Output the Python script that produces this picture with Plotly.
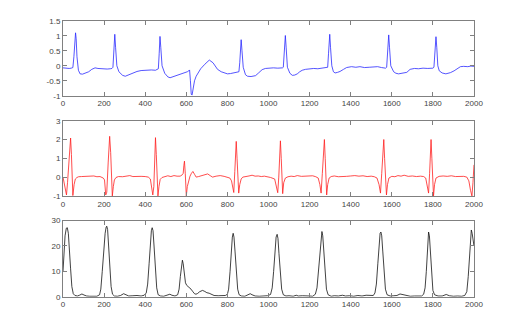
import plotly.graph_objects as go

# ---------------- data ----------------
ecg_x = [0, 10, 20, 30, 40, 48, 53, 58, 61, 64, 68, 75, 83, 95, 110, 125, 140, 156, 170, 185,
         200, 215, 230, 238, 243, 248, 252, 256, 262, 272, 290, 303, 320, 340, 360, 380, 394,
         410, 430, 450, 460, 464, 468, 472, 476, 482, 495, 510, 521, 540, 560, 580, 595, 605,
         612, 616, 620, 624, 628, 633, 640, 648, 656, 670, 690, 712, 730, 752, 770, 784, 800,
         815, 830, 848, 856, 860, 864, 867, 871, 877, 888, 898, 915, 937, 950, 969, 985, 1000,
         1024, 1045, 1060, 1068, 1072, 1078, 1082, 1086, 1092, 1104, 1116, 1128, 1140, 1152,
         1164, 1180, 1196, 1220, 1240, 1260, 1283, 1288, 1292, 1298, 1302, 1308, 1316, 1324,
         1336, 1348, 1365, 1380, 1404, 1425, 1445, 1467, 1490, 1510, 1531, 1550, 1570, 1575,
         1580, 1585, 1589, 1595, 1609, 1620, 1633, 1650, 1673, 1689, 1710, 1730, 1752, 1775,
         1800, 1805, 1810, 1815, 1819, 1824, 1831, 1845, 1863, 1885, 1903, 1920, 1934, 1950,
         1970, 1985, 2000]
ecg_y = [-0.07, -0.08, -0.07, -0.09, -0.08, -0.06, 0.3, 0.95, 1.1, 0.9, 0.3, -0.15, -0.27,
         -0.28, -0.25, -0.2, -0.12, -0.07, -0.09, -0.1, -0.1, -0.11, -0.1, -0.09, -0.05, 0.5,
         1.05, 0.6, 0.0, -0.2, -0.32, -0.35, -0.3, -0.24, -0.19, -0.16, -0.15, -0.16, -0.14,
         -0.15, -0.13, -0.1, 0.4, 0.98, 0.6, 0.0, -0.25, -0.37, -0.4, -0.36, -0.3, -0.25, -0.22,
         -0.2, -0.17, -0.14, -0.5, -0.95, -0.98, -0.8, -0.5, -0.35, -0.25, -0.1, 0.05, 0.19,
         0.1, -0.12, -0.2, -0.23, -0.27, -0.26, -0.24, -0.22, -0.2, 0.1, 0.6, 0.87, 0.5, -0.05,
         -0.3, -0.35, -0.36, -0.33, -0.25, -0.13, -0.09, -0.08, -0.07, -0.08, -0.08, -0.07,
         -0.05, 0.6, 1.01, 0.6, -0.05, -0.25, -0.32, -0.31, -0.27, -0.2, -0.15, -0.12, -0.1,
         -0.09, -0.1, -0.08, -0.08, -0.05, 0.4, 1.05, 0.6, 0.0, -0.2, -0.24, -0.22, -0.19,
         -0.12, -0.06, -0.03, -0.05, -0.03, -0.06, -0.05, -0.04, -0.03, -0.06, -0.08, -0.05,
         0.5, 1.03, 0.6, 0.0, -0.2, -0.25, -0.27, -0.25, -0.22, -0.12, -0.09, -0.1, -0.08,
         -0.09, -0.08, -0.05, 0.5, 0.97, 0.6, 0.0, -0.17, -0.24, -0.27, -0.23, -0.17, -0.08,
         -0.03, -0.02, -0.03, -0.01, -0.02]

flt_x = [0, 8, 17, 22, 30, 37, 41, 46, 48, 54, 60, 68, 76, 90, 110, 130, 150, 165, 180, 196,
         202, 208, 213, 220, 227, 232, 237, 240, 245, 250, 258, 270, 290, 310, 325, 340, 360,
         380, 400, 415, 425, 431, 437, 442, 446, 450, 454, 459, 462, 467, 473, 482, 495, 510,
         525, 540, 555, 570, 580, 585, 588, 591, 595, 600, 605, 612, 618, 625, 632, 640, 648,
         660, 672, 688, 704, 716, 728, 745, 765, 784, 800, 812, 820, 826, 831, 836, 843, 847,
         851, 855, 860, 867, 875, 890, 905, 920, 935, 950, 965, 980, 995, 1010, 1030, 1038,
         1045, 1050, 1058, 1062, 1066, 1069, 1074, 1082, 1095, 1110, 1125, 1140, 1160, 1180,
         1200, 1215, 1230, 1242, 1250, 1256, 1262, 1272, 1276, 1280, 1283, 1288, 1295, 1305,
         1320, 1340, 1360, 1380, 1400, 1420, 1440, 1460, 1480, 1500, 1515, 1528, 1538, 1545,
         1551, 1561, 1565, 1570, 1574, 1579, 1586, 1600, 1615, 1630, 1645, 1660, 1680, 1700,
         1720, 1740, 1755, 1765, 1772, 1779, 1784, 1791, 1795, 1799, 1803, 1808, 1815, 1830,
         1850, 1870, 1890, 1910, 1930, 1950, 1965, 1975, 1983, 1990, 1995, 2000]
flt_y = [0.0, -0.5, -0.95, -0.3, 1.0, 2.08, 1.2, -0.3, -0.98, -0.4, -0.1, -0.02, 0.02, 0.03,
         0.05, 0.04, 0.06, 0.02, 0.03, -0.05, -0.15, -0.95, -0.8, 0.8, 2.17, 1.3, -0.2, -1.0,
         -0.5, -0.15, -0.02, 0.03, 0.02, 0.05, 0.08, 0.03, 0.05, 0.04, 0.03, 0.0, -0.1, -0.5,
         -0.95, -0.5, 0.8, 2.1, 1.2, -0.2, -1.0, -0.5, -0.12, -0.02, 0.04, 0.07, 0.03, 0.08,
         0.05, 0.05, 0.12, 0.2, 0.6, 0.85, 0.2, -1.0, -0.5, -0.15, 0.05, 0.2, 0.3, 0.15, 0.0,
         0.03, 0.07, 0.1, 0.17, 0.08, 0.0, 0.05, 0.08, 0.04, 0.0, -0.05, -0.2, -0.7, -0.82, 0.3,
         1.9, 1.0, -0.3, -0.85, -0.4, -0.1, 0.0, 0.05, 0.06, 0.1, 0.05, 0.06, 0.03, 0.05, 0.02,
         -0.02, -0.1, -0.5, -0.83, 0.0, 1.93, 1.0, -0.3, -0.88, -0.3, -0.05, 0.02, 0.05, 0.03,
         0.08, 0.04, 0.06, 0.05, 0.07, 0.02, -0.05, -0.4, -0.85, 0.2, 2.0, 1.0, -0.3, -0.95,
         -0.4, -0.05, 0.03, 0.06, 0.02, 0.05, 0.04, 0.06, 0.08, 0.05, 0.07, 0.03, 0.05, 0.02,
         -0.05, -0.4, -0.85, 0.2, 2.0, 1.0, -0.3, -0.95, -0.4, -0.05, 0.04, 0.02, 0.08, 0.05,
         0.1, 0.04, 0.06, 0.03, 0.05, 0.03, -0.05, -0.4, -0.85, 0.2, 2.0, 1.0, -0.3, -1.0, -0.4,
         -0.05, 0.04, 0.06, 0.04, 0.07, 0.03, 0.05, 0.04, 0.0, -0.2, -0.7, -1.0, -0.3, 0.65]

eng_x = [0, 5, 10, 16, 21, 26, 31, 37, 43, 50, 58, 70, 80, 92, 102, 115, 130, 150, 165, 178,
         184, 191, 198, 205, 210, 213, 217, 222, 228, 234, 241, 250, 265, 280, 295, 305, 320,
         340, 360, 380, 395, 405, 412, 419, 425, 430, 434, 438, 443, 449, 456, 463, 475, 490,
         505, 520, 530, 545, 558, 565, 571, 576, 581, 585, 590, 596, 602, 607, 615, 623, 632,
         640, 647, 655, 665, 679, 690, 700, 711, 722, 735, 755, 775, 790, 800, 806, 813, 819,
         824, 828, 832, 837, 843, 850, 857, 868, 885, 900, 911, 920, 935, 955, 975, 995, 1010,
         1018, 1025, 1031, 1037, 1042, 1046, 1051, 1057, 1064, 1072, 1085, 1100, 1120, 1135,
         1145, 1165, 1185, 1200, 1215, 1228, 1236, 1243, 1249, 1255, 1260, 1264, 1269, 1275,
         1282, 1290, 1305, 1320, 1340, 1360, 1375, 1395, 1415, 1435, 1455, 1475, 1495, 1510,
         1518, 1525, 1532, 1538, 1543, 1547, 1551, 1556, 1562, 1569, 1577, 1592, 1610, 1625,
         1640, 1655, 1670, 1690, 1710, 1730, 1745, 1755, 1762, 1768, 1773, 1777, 1779, 1783,
         1788, 1794, 1800, 1808, 1825, 1845, 1865, 1880, 1900, 1920, 1940, 1955, 1965, 1972,
         1978, 1983, 1987, 1991, 1995, 2000]
eng_y = [10, 18, 24, 27, 27.2, 25, 20, 11, 4, 1.2, 0.5, 0.3, 0.6, 1.1, 0.7, 0.3, 0.2, 0.3, 0.2,
         0.8, 3, 10, 19, 25, 27.5, 27.8, 26.5, 21, 12, 4, 1, 0.3, 0.2, 0.5, 1.2, 0.8, 0.3, 0.4,
         0.5, 0.3, 0.6, 1.5, 5, 13, 21, 26, 27.2, 26, 20, 11, 3.5, 0.8, 0.3, 0.2, 0.5, 1.0, 0.6,
         0.3, 0.8, 3, 8, 12.5, 14.4, 13, 9, 5.5, 4.5, 4.2, 3.8, 3.0, 2.0, 1.2, 1.0, 1.3, 2.0,
         2.5, 2.1, 1.6, 1.4, 0.9, 0.5, 0.4, 0.3, 0.5, 1.0, 3, 10, 18, 23.5, 25, 23.5, 18, 9, 3,
         0.8, 0.3, 0.2, 0.6, 1.2, 0.8, 0.3, 0.2, 0.3, 0.4, 0.9, 3.5, 10, 18, 23.5, 24.6, 23, 17,
         9, 3, 0.8, 0.3, 0.4, 0.2, 0.6, 0.3, 0.4, 0.2, 0.3, 0.2, 1.0, 3.5, 10, 18, 24, 25.7, 24,
         18, 9, 3, 0.8, 0.2, 0.4, 0.3, 0.6, 0.3, 0.4, 0.2, 0.5, 0.3, 0.6, 0.4, 0.5, 1.5, 5, 13,
         21, 25, 25.5, 24, 18, 9, 3, 0.8, 0.3, 0.4, 0.5, 1.1, 0.8, 0.3, 0.2, 0.3, 0.2, 0.3, 1.0,
         3.5, 10, 18, 24, 25.5, 24, 17, 8, 2.5, 0.8, 0.3, 0.3, 0.9, 0.4, 0.2, 0.3, 0.2, 0.5, 2,
         8, 17, 24, 26.3, 25, 22, 20]

x_ticks = [0, 200, 400, 600, 800, 1000, 1200, 1400, 1600, 1800, 2000]
x_ticklabels = ["0", "200", "400", "600", "800", "1000", "1200", "1400", "1600", "1800", "2000"]
y1_ticks = [-1, -0.5, 0, 0.5, 1, 1.5]
y1_ticklabels = ["-1", "-0.5", "0", "0.5", "1", "1.5"]
y2_ticks = [-1, 0, 1, 2, 3]
y2_ticklabels = ["-1", "0", "1", "2", "3"]
y3_ticks = [0, 10, 20, 30]
y3_ticklabels = ["0", "10", "20", "30"]

# ---------------- figure ----------------
W, H = 530, 329
fig = go.Figure()

fig.add_trace(go.Scatter(x=ecg_x, y=ecg_y, mode="lines",
                         line=dict(color="#2a2aff", width=0.8), xaxis="x", yaxis="y"))
fig.add_trace(go.Scatter(x=flt_x, y=flt_y, mode="lines",
                         line=dict(color="#ff2020", width=0.8), xaxis="x2", yaxis="y2"))
fig.add_trace(go.Scatter(x=eng_x, y=eng_y, mode="lines",
                         line=dict(color="#111111", width=0.8), xaxis="x3", yaxis="y3"))

xdom = [62.3 / W, 482 / W]
def ydom(top, bottom):
    return [1 - bottom / H, 1 - top / H]

font = dict(family="Liberation Sans, Arial, sans-serif", size=8, color="#444444")
common = dict(showline=True, linecolor="#808080", linewidth=1, mirror="ticks",
              ticks="inside", ticklen=4, tickcolor="#808080", tickwidth=1,
              showgrid=False, zeroline=False, tickfont=font, tickmode="array")

def xaxis(anchor):
    return dict(domain=xdom, range=[0, 2000], anchor=anchor,
                tickvals=x_ticks, ticktext=x_ticklabels, **common)

fig.update_layout(
    width=W, height=H, margin=dict(l=0, r=0, t=0, b=0, pad=0),
    paper_bgcolor="white", plot_bgcolor="white", showlegend=False,
    xaxis=xaxis("y"),
    xaxis2=xaxis("y2"),
    xaxis3=xaxis("y3"),
    yaxis=dict(domain=ydom(17.3, 94.3), range=[-1, 1.5], anchor="x",
               tickvals=y1_ticks, ticktext=y1_ticklabels, **common),
    yaxis2=dict(domain=ydom(120, 197.3), range=[-1, 3], anchor="x2",
                tickvals=y2_ticks, ticktext=y2_ticklabels, **common),
    yaxis3=dict(domain=ydom(222.7, 301), range=[0, 30], anchor="x3",
                tickvals=y3_ticks, ticktext=y3_ticklabels, **common),
)

fig.write_html("out.html")
